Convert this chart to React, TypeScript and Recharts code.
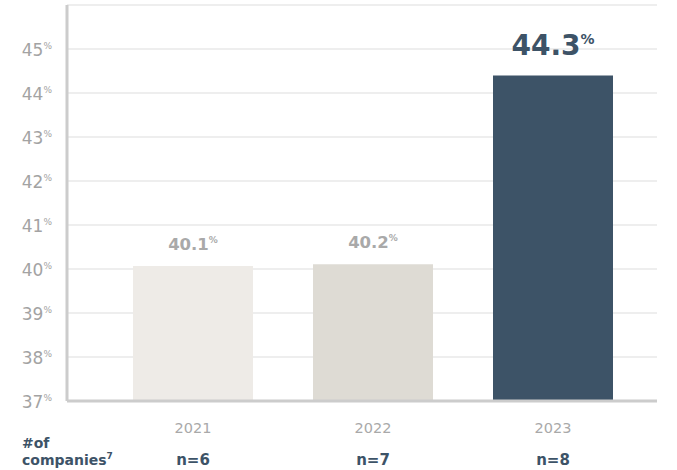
import React from "react";
import { BarChart, Bar, XAxis, YAxis, CartesianGrid, Cell, LabelList } from "recharts";

const years = ["2021", "2022", "2023"];
const shares = [40.07, 40.11, 44.4];
const shareLabels = ["40.1", "40.2", "44.3"];
const companyCounts = ["n=6", "n=7", "n=8"];
const yTicks = [37, 38, 39, 40, 41, 42, 43, 44, 45];

const BAR_COLORS = ["#eeebe7", "#dedbd4", "#3d5367"];
const DARK = "#3d5367";
const GREY = "#a9a9a9";
const FONT = "'DejaVu Sans', sans-serif";

const data = years.map((year, i) => ({
  year,
  value: shares[i],
  label: shareLabels[i],
}));

function YTick({ x, y, payload }: any) {
  return (
    <text x={x - 7} y={y + 7} textAnchor="end" fontFamily={FONT} fontSize={17} fill="#a3a3a3">
      {payload.value}
      <tspan fontSize={9} dy={-7}>%</tspan>
    </text>
  );
}

function XTick({ x, y, payload, index }: any) {
  return (
    <g>
      <text x={x} y={y + 24} textAnchor="middle" fontFamily={FONT} fontSize={14.5} fill={GREY}>
        {payload.value}
      </text>
      <text x={x} y={y + 56} textAnchor="middle" fontFamily={FONT} fontSize={15} fontWeight={700} fill={DARK}>
        {companyCounts[index]}
      </text>
    </g>
  );
}

function ValueLabel({ x, y, width, value, index }: any) {
  const big = index === 2;
  const cx = x + width / 2;
  return (
    <text
      x={cx}
      y={big ? y - 20 : y - 16}
      textAnchor="middle"
      fontFamily={FONT}
      fontWeight={700}
      fontSize={big ? 28 : 16.5}
      fill={big ? DARK : GREY}
    >
      {value}
      <tspan fontSize={big ? 14 : 9} dy={big ? -11 : -7}>%</tspan>
    </text>
  );
}

export default function App() {
  return (
    <div style={{ position: "absolute", left: 0, top: 0, width: 677, height: 470, background: "#fff" }}>
      <BarChart
        width={677}
        height={470}
        data={data}
        margin={{ top: 5, right: 20, bottom: 39, left: 0 }}
        barSize={120}
      >
        <CartesianGrid vertical={false} stroke="#e9e9e9" strokeWidth={1.5} />
        <XAxis
          dataKey="year"
          axisLine={{ stroke: "#cccccc", strokeWidth: 3 }}
          tickLine={false}
          tick={<XTick />}
          height={30}
          padding={{ left: 36, right: 14 }}
          interval={0}
        />
        <YAxis
          domain={[37, 46]}
          ticks={yTicks}
          width={67}
          axisLine={{ stroke: "#cccccc", strokeWidth: 3 }}
          tickLine={false}
          tick={<YTick />}
          interval={0}
        />
        <Bar dataKey="value" isAnimationActive={false}>
          {data.map((_, i) => (
            <Cell key={i} fill={BAR_COLORS[i]} />
          ))}
          <LabelList dataKey="label" content={<ValueLabel />} />
        </Bar>
      </BarChart>
      <svg width={140} height={40} style={{ position: "absolute", left: 0, top: 430 }}>
        <text x={22} y={18} fontFamily={FONT} fontSize={14} fontWeight={700} fill={DARK}>
          #of
        </text>
        <text x={22} y={35} fontFamily={FONT} fontSize={14} fontWeight={700} fill={DARK}>
          companies
          <tspan fontSize={9} dy={-6}>7</tspan>
        </text>
      </svg>
    </div>
  );
}
